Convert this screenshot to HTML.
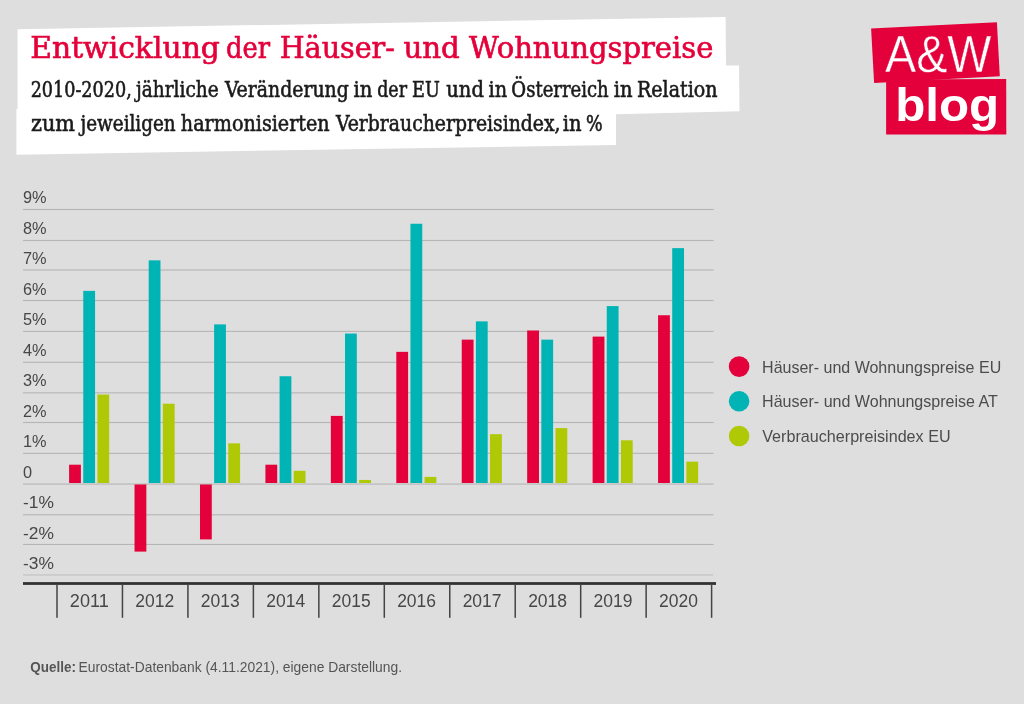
<!DOCTYPE html>
<html lang="de"><head><meta charset="utf-8">
<title>Entwicklung der Häuser- und Wohnungspreise</title>
<style>
html,body{margin:0;padding:0;background:#dedede;}
body{width:1024px;height:704px;overflow:hidden;}
svg{display:block;will-change:transform;}
.sans{font-family:"Liberation Sans","DejaVu Sans",sans-serif;}
.slab{font-family:"DejaVu Serif","Liberation Serif",serif;font-stretch:condensed;}
</style></head><body>
<svg width="1024" height="704" viewBox="0 0 1024 704">
<rect x="0" y="0" width="1024" height="704" fill="#dedede"/>
<polygon fill="#ffffff" points="17.6,29.2 725.6,17 726,65.5 739,65.5 739.5,111.2 616,114.2 616,144.9 16.4,154.7 16.4,109 17.6,109"/>
<text class="slab" y="58.3" font-size="30.2" fill="#e4003a" stroke="#e4003a" stroke-width="0.6" xml:space="preserve"><tspan x="30.18" textLength="189.76" lengthAdjust="spacingAndGlyphs">Entwicklung</tspan> <tspan x="226.09" textLength="43.99" lengthAdjust="spacingAndGlyphs">der</tspan> <tspan x="279.72" textLength="115.16" lengthAdjust="spacingAndGlyphs">Häuser-</tspan> <tspan x="403.48" textLength="56.36" lengthAdjust="spacingAndGlyphs">und</tspan> <tspan x="469.08" textLength="244.24" lengthAdjust="spacingAndGlyphs">Wohnungspreise</tspan></text>
<text class="slab" y="97.3" font-size="22" fill="#1a1a1a" stroke="#1a1a1a" stroke-width="0.55" xml:space="preserve"><tspan x="30.66" textLength="101.06" lengthAdjust="spacingAndGlyphs">2010-2020,</tspan> <tspan x="136.10" textLength="82.55" lengthAdjust="spacingAndGlyphs">jährliche</tspan> <tspan x="224.90" textLength="123.93" lengthAdjust="spacingAndGlyphs">Veränderung</tspan> <tspan x="353.50" textLength="18.90" lengthAdjust="spacingAndGlyphs">in</tspan> <tspan x="377.19" textLength="29.77" lengthAdjust="spacingAndGlyphs">der</tspan> <tspan x="412.05" textLength="27.72" lengthAdjust="spacingAndGlyphs">EU</tspan> <tspan x="446.24" textLength="37.64" lengthAdjust="spacingAndGlyphs">und</tspan> <tspan x="488.52" textLength="18.59" lengthAdjust="spacingAndGlyphs">in</tspan> <tspan x="511.37" textLength="97.38" lengthAdjust="spacingAndGlyphs">Österreich</tspan> <tspan x="613.83" textLength="18.79" lengthAdjust="spacingAndGlyphs">in</tspan> <tspan x="637.01" textLength="80.47" lengthAdjust="spacingAndGlyphs">Relation</tspan></text>
<text class="slab" y="131.3" font-size="22" fill="#1a1a1a" stroke="#1a1a1a" stroke-width="0.55" xml:space="preserve"><tspan x="31.05" textLength="43.98" lengthAdjust="spacingAndGlyphs">zum</tspan> <tspan x="80.58" textLength="95.04" lengthAdjust="spacingAndGlyphs">jeweiligen</tspan> <tspan x="180.83" textLength="148.85" lengthAdjust="spacingAndGlyphs">harmonisierten</tspan> <tspan x="336.02" textLength="224.52" lengthAdjust="spacingAndGlyphs">Verbraucherpreisindex,</tspan> <tspan x="562.83" textLength="18.79" lengthAdjust="spacingAndGlyphs">in</tspan> <tspan x="585.98" textLength="16.60" lengthAdjust="spacingAndGlyphs">%</tspan></text>
<polygon fill="#e4003a" points="871.1,28.4 996.9,22.2 999.8,76.3 874.1,83"/>
<polygon fill="#e4003a" points="886.1,79.6 1006.2,78.9 1006.3,134.6 886.1,134.6"/>
<text class="sans" x="885" y="72" font-size="52" fill="#ffffff" stroke="#e4003a" stroke-width="0.5" textLength="106.5" lengthAdjust="spacingAndGlyphs">A&amp;W</text>
<text class="sans" x="895.2" y="120.8" font-size="46" font-weight="bold" fill="#ffffff" textLength="104" lengthAdjust="spacingAndGlyphs">blog</text>
<rect x="23" y="208.95" width="690.6" height="1.1" fill="#b5b5b5"/>
<text class="sans" x="23.0" y="203.0" font-size="16.5" fill="#474747" textLength="23.60" lengthAdjust="spacingAndGlyphs">9%</text>
<rect x="23" y="239.95" width="690.6" height="1.1" fill="#b5b5b5"/>
<text class="sans" x="23.0" y="233.5" font-size="16.5" fill="#474747" textLength="23.60" lengthAdjust="spacingAndGlyphs">8%</text>
<rect x="23" y="269.45" width="690.6" height="1.1" fill="#b5b5b5"/>
<text class="sans" x="23.0" y="264.0" font-size="16.5" fill="#474747" textLength="23.60" lengthAdjust="spacingAndGlyphs">7%</text>
<rect x="23" y="299.95" width="690.6" height="1.1" fill="#b5b5b5"/>
<text class="sans" x="23.0" y="294.5" font-size="16.5" fill="#474747" textLength="23.60" lengthAdjust="spacingAndGlyphs">6%</text>
<rect x="23" y="330.85" width="690.6" height="1.1" fill="#b5b5b5"/>
<text class="sans" x="23.0" y="325.0" font-size="16.5" fill="#474747" textLength="23.60" lengthAdjust="spacingAndGlyphs">5%</text>
<rect x="23" y="361.75" width="690.6" height="1.1" fill="#b5b5b5"/>
<text class="sans" x="23.0" y="355.5" font-size="16.5" fill="#474747" textLength="23.60" lengthAdjust="spacingAndGlyphs">4%</text>
<rect x="23" y="392.30" width="690.6" height="1.1" fill="#b5b5b5"/>
<text class="sans" x="23.0" y="386.0" font-size="16.5" fill="#474747" textLength="23.60" lengthAdjust="spacingAndGlyphs">3%</text>
<rect x="23" y="421.95" width="690.6" height="1.1" fill="#b5b5b5"/>
<text class="sans" x="23.0" y="416.5" font-size="16.5" fill="#474747" textLength="23.60" lengthAdjust="spacingAndGlyphs">2%</text>
<rect x="23" y="452.80" width="690.6" height="1.1" fill="#b5b5b5"/>
<text class="sans" x="23.0" y="447.0" font-size="16.5" fill="#474747" textLength="23.60" lengthAdjust="spacingAndGlyphs">1%</text>
<rect x="23" y="483.50" width="690.6" height="1.1" fill="#b5b5b5"/>
<text class="sans" x="23.0" y="477.5" font-size="16.5" fill="#474747" textLength="9.08" lengthAdjust="spacingAndGlyphs">0</text>
<rect x="23" y="514.25" width="690.6" height="1.1" fill="#b5b5b5"/>
<text class="sans" x="23.0" y="508.0" font-size="16.5" fill="#474747" textLength="30.95" lengthAdjust="spacingAndGlyphs">-1%</text>
<rect x="23" y="543.90" width="690.6" height="1.1" fill="#b5b5b5"/>
<text class="sans" x="23.0" y="538.5" font-size="16.5" fill="#474747" textLength="30.95" lengthAdjust="spacingAndGlyphs">-2%</text>
<rect x="23" y="574.20" width="690.1" height="1.5" fill="#c8c8c8"/>
<text class="sans" x="23.0" y="569.0" font-size="16.5" fill="#474747" textLength="30.95" lengthAdjust="spacingAndGlyphs">-3%</text>
<rect x="69.10" y="464.70" width="11.80" height="18.30" fill="#e4003a"/>
<rect x="83.25" y="290.85" width="11.80" height="192.15" fill="#00b4b5"/>
<rect x="97.40" y="394.55" width="11.80" height="88.45" fill="#afc906"/>
<rect x="134.54" y="484.50" width="11.80" height="67.10" fill="#e4003a"/>
<rect x="148.69" y="260.35" width="11.80" height="222.65" fill="#00b4b5"/>
<rect x="162.84" y="403.70" width="11.80" height="79.30" fill="#afc906"/>
<rect x="199.98" y="484.50" width="11.80" height="54.90" fill="#e4003a"/>
<rect x="214.13" y="324.40" width="11.80" height="158.60" fill="#00b4b5"/>
<rect x="228.28" y="443.35" width="11.80" height="39.65" fill="#afc906"/>
<rect x="265.42" y="464.70" width="11.80" height="18.30" fill="#e4003a"/>
<rect x="279.57" y="376.25" width="11.80" height="106.75" fill="#00b4b5"/>
<rect x="293.72" y="470.80" width="11.80" height="12.20" fill="#afc906"/>
<rect x="330.86" y="415.90" width="11.80" height="67.10" fill="#e4003a"/>
<rect x="345.01" y="333.55" width="11.80" height="149.45" fill="#00b4b5"/>
<rect x="359.16" y="479.95" width="11.80" height="3.05" fill="#afc906"/>
<rect x="396.30" y="351.85" width="11.80" height="131.15" fill="#e4003a"/>
<rect x="410.45" y="223.75" width="11.80" height="259.25" fill="#00b4b5"/>
<rect x="424.60" y="476.90" width="11.80" height="6.10" fill="#afc906"/>
<rect x="461.74" y="339.65" width="11.80" height="143.35" fill="#e4003a"/>
<rect x="475.89" y="321.35" width="11.80" height="161.65" fill="#00b4b5"/>
<rect x="490.04" y="434.20" width="11.80" height="48.80" fill="#afc906"/>
<rect x="527.18" y="330.50" width="11.80" height="152.50" fill="#e4003a"/>
<rect x="541.33" y="339.65" width="11.80" height="143.35" fill="#00b4b5"/>
<rect x="555.48" y="428.10" width="11.80" height="54.90" fill="#afc906"/>
<rect x="592.62" y="336.60" width="11.80" height="146.40" fill="#e4003a"/>
<rect x="606.77" y="306.10" width="11.80" height="176.90" fill="#00b4b5"/>
<rect x="620.92" y="440.30" width="11.80" height="42.70" fill="#afc906"/>
<rect x="658.06" y="315.25" width="11.80" height="167.75" fill="#e4003a"/>
<rect x="672.21" y="248.15" width="11.80" height="234.85" fill="#00b4b5"/>
<rect x="686.36" y="461.65" width="11.80" height="21.35" fill="#afc906"/>
<rect x="23" y="582.1" width="693" height="2.8" fill="#333333"/>
<rect x="56.25" y="584" width="1.5" height="33.8" fill="#444444"/>
<rect x="121.71" y="584" width="1.5" height="33.8" fill="#444444"/>
<rect x="187.17" y="584" width="1.5" height="33.8" fill="#444444"/>
<rect x="252.63" y="584" width="1.5" height="33.8" fill="#444444"/>
<rect x="318.09" y="584" width="1.5" height="33.8" fill="#444444"/>
<rect x="383.55" y="584" width="1.5" height="33.8" fill="#444444"/>
<rect x="449.01" y="584" width="1.5" height="33.8" fill="#444444"/>
<rect x="514.47" y="584" width="1.5" height="33.8" fill="#444444"/>
<rect x="579.93" y="584" width="1.5" height="33.8" fill="#444444"/>
<rect x="645.39" y="584" width="1.5" height="33.8" fill="#444444"/>
<rect x="710.85" y="584" width="1.5" height="33.8" fill="#444444"/>
<text class="sans" x="89.3" y="606.6" font-size="18" fill="#474747" text-anchor="middle" textLength="38.9" lengthAdjust="spacingAndGlyphs">2011</text>
<text class="sans" x="154.8" y="606.6" font-size="18" fill="#474747" text-anchor="middle" textLength="38.9" lengthAdjust="spacingAndGlyphs">2012</text>
<text class="sans" x="220.2" y="606.6" font-size="18" fill="#474747" text-anchor="middle" textLength="38.9" lengthAdjust="spacingAndGlyphs">2013</text>
<text class="sans" x="285.7" y="606.6" font-size="18" fill="#474747" text-anchor="middle" textLength="38.9" lengthAdjust="spacingAndGlyphs">2014</text>
<text class="sans" x="351.2" y="606.6" font-size="18" fill="#474747" text-anchor="middle" textLength="38.9" lengthAdjust="spacingAndGlyphs">2015</text>
<text class="sans" x="416.6" y="606.6" font-size="18" fill="#474747" text-anchor="middle" textLength="38.9" lengthAdjust="spacingAndGlyphs">2016</text>
<text class="sans" x="482.1" y="606.6" font-size="18" fill="#474747" text-anchor="middle" textLength="38.9" lengthAdjust="spacingAndGlyphs">2017</text>
<text class="sans" x="547.6" y="606.6" font-size="18" fill="#474747" text-anchor="middle" textLength="38.9" lengthAdjust="spacingAndGlyphs">2018</text>
<text class="sans" x="613.0" y="606.6" font-size="18" fill="#474747" text-anchor="middle" textLength="38.9" lengthAdjust="spacingAndGlyphs">2019</text>
<text class="sans" x="678.5" y="606.6" font-size="18" fill="#474747" text-anchor="middle" textLength="38.9" lengthAdjust="spacingAndGlyphs">2020</text>
<circle cx="739.1" cy="366.6" r="10.3" fill="#e4003a"/>
<text class="sans" x="762.10" y="372.5" font-size="16.6" fill="#4c4c4c" textLength="239.1" lengthAdjust="spacingAndGlyphs">Häuser- und Wohnungspreise EU</text>
<circle cx="739.1" cy="401.3" r="10.3" fill="#00b4b5"/>
<text class="sans" x="762.10" y="407.2" font-size="16.6" fill="#4c4c4c" textLength="235.8" lengthAdjust="spacingAndGlyphs">Häuser- und Wohnungspreise AT</text>
<circle cx="739.1" cy="436.0" r="10.3" fill="#afc906"/>
<text class="sans" x="762.25" y="441.9" font-size="16.6" fill="#4c4c4c" textLength="188.3" lengthAdjust="spacingAndGlyphs">Verbraucherpreisindex EU</text>
<text class="sans" y="672.2" font-size="14.5" fill="#555555" xml:space="preserve"><tspan x="30.3" font-weight="bold" textLength="45.6" lengthAdjust="spacingAndGlyphs">Quelle:</tspan> <tspan x="78.6" textLength="323.4" lengthAdjust="spacingAndGlyphs">Eurostat-Datenbank (4.11.2021), eigene Darstellung.</tspan></text>
</svg></body></html>
